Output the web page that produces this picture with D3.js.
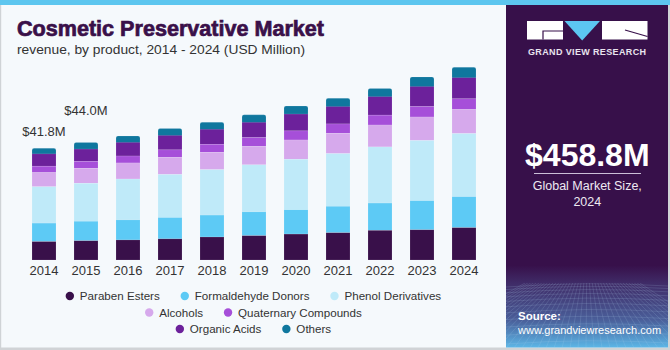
<!DOCTYPE html>
<head>
    <meta charset="utf-8">
    <script src="https://d3js.org/d3.v7.min.js"></script>
    <style>
        body { margin: 0; background: #fff; }
        svg text { font-family: "Liberation Sans", Arial, sans-serif; }
    </style>
</head>
<body>
<div id="chart"></div>
<script>
    // dados -----------------------------------------------------------------
    var years = ["2014","2015","2016","2017","2018","2019","2020","2021","2022","2023","2024"];
    var seriesNames = ["Paraben Esters","Formaldehyde Donors","Phenol Derivatives","Alcohols",
                       "Quaternary Compounds","Organic Acids","Others"];
    var seriesColors = ["#39104a","#5dcaf5","#bfeaf9","#d6a9ec","#a64fd9","#6c219b","#0f779e"];
    var paraben      = [6.9, 7.2, 7.5, 7.9, 8.6, 9.1, 9.7, 10.2, 11.1, 11.3, 12.1];
    var formaldehyde = [6.9, 7.3, 7.5, 8.0, 8.2, 8.9, 9.1, 9.9, 10.2, 10.9, 11.6];
    var phenol       = [13.6, 14.2, 15.3, 16.1, 17.0, 17.6, 18.9, 19.7, 21.0, 22.5, 23.6];
    var alcohols     = [5.3, 5.6, 6.0, 6.4, 6.5, 6.9, 7.2, 7.6, 8.2, 8.8, 9.0];
    var quaternary   = [2.4, 2.6, 2.6, 2.8, 3.0, 3.3, 3.4, 3.5, 3.7, 3.9, 4.0];
    var organic      = [4.6, 4.6, 5.1, 5.4, 5.6, 5.7, 6.3, 6.5, 6.9, 7.5, 7.9];
    var others       = [2.1, 2.5, 2.4, 2.6, 2.6, 2.8, 3.0, 3.1, 3.1, 3.6, 3.9];
    var valueLabels  = [{year: "2014", text: "$41.8M", lift: 12}, {year: "2015", text: "$44.0M", lift: 27}];
    var legendRows   = [[0,1,2],[3,4],[5,6]];

    var W = 670, H = 350;
    var svg = d3.select("#chart").append("svg")
        .attr("width", W).attr("height", H);

    // fundo ---------------------------------------------------------------
    svg.append("rect").attr("width", W).attr("height", H).attr("fill", "#f5f9fc");
    svg.append("rect").attr("x", 0).attr("y", 0).attr("width", 1.2).attr("height", H).attr("fill", "#cfd3d6");
    svg.append("rect").attr("x", 0).attr("y", 347.5).attr("width", W).attr("height", 2.5).attr("fill", "#d0d3d6");
    svg.append("rect").attr("x", 668).attr("y", 0).attr("width", 2).attr("height", H).attr("fill", "#d0d3d6");

    // titulo
    svg.append("text").attr("x", 17).attr("y", 36)
        .attr("font-size", 21.5).attr("font-weight", "bold")
        .attr("fill", "#3a1049").attr("stroke", "#3a1049").attr("stroke-width", 0.7)
        .attr("textLength", 307).attr("lengthAdjust", "spacingAndGlyphs")
        .text("Cosmetic Preservative Market");
    svg.append("text").attr("x", 17).attr("y", 54)
        .attr("font-size", 13.5).attr("fill", "#333")
        .attr("textLength", 288).attr("lengthAdjust", "spacingAndGlyphs")
        .text("revenue, by product, 2014 - 2024 (USD Million)");

    // barras empilhadas -------------------------------------------------------
    var values = [paraben, formaldehyde, phenol, alcohols, quaternary, organic, others];
    var table = years.map(function(y, i) {
        var row = {year: y};
        seriesNames.forEach(function(s, k) { row[s] = values[k][i]; });
        return row;
    });
    var stacked = d3.stack().keys(seriesNames)(table);

    var x = d3.scaleBand().domain(years).range([23, 485])
        .paddingInner(0.4286).paddingOuter(0.2143);
    var y = d3.scaleLinear().domain([0, 80]).range([260, 260 - 80 * 2.673]);

    var layers = svg.append("g").selectAll("g")
        .data(stacked.slice().reverse())
        .enter().append("g")
        .attr("fill", function(d) { return seriesColors[seriesNames.indexOf(d.key)]; });

    layers.selectAll("rect")
        .data(function(d) { return d.map(function(p) { p.key = d.key; return p; }); })
        .enter().append("rect")
        .attr("x", function(d) { return x(d.data.year); })
        .attr("width", x.bandwidth())
        .attr("y", function(d) { return y(d[1]); })
        .attr("height", function(d) {
            var h = y(d[0]) - y(d[1]);
            return d.key === "Others" ? h + 3 : h;
        })
        .attr("rx", function(d) { return d.key === "Others" ? 2 : 0; })
        .attr("stroke", "rgba(255,255,255,0.25)")
        .attr("stroke-width", 0.5);

    // eixo x
    var xAxis = svg.append("g")
        .attr("transform", "translate(0,260)")
        .call(d3.axisBottom(x).tickSize(0).tickPadding(6));
    xAxis.select(".domain").remove();
    xAxis.selectAll("text")
        .attr("font-size", 13).attr("fill", "#333")
        .attr("font-family", "Liberation Sans, Arial, sans-serif");

    // rotulos de valor
    var totals = {};
    table.forEach(function(r) { totals[r.year] = d3.sum(seriesNames, function(s) { return r[s]; }); });
    svg.selectAll("text.vlabel")
        .data(valueLabels).enter().append("text")
        .attr("class", "vlabel")
        .attr("x", function(d) { return x(d.year) + x.bandwidth() / 2; })
        .attr("y", function(d) { return y(totals[d.year]) - d.lift; })
        .attr("text-anchor", "middle")
        .attr("font-size", 13).attr("fill", "#333")
        .text(function(d) { return d.text; });

    // legenda --------------------------------------------------------------
    var legendY = [296, 312.5, 329];
    var lg = svg.append("g");
    legendRows.forEach(function(row, ri) {
        var rg = lg.append("g");
        var cx = 0;
        row.forEach(function(k, j) {
            var item = rg.append("g").attr("transform", "translate(" + cx + ",0)");
            item.append("circle").attr("cx", 4).attr("cy", 0).attr("r", 4.2)
                .attr("fill", seriesColors[k]);
            var t = item.append("text").attr("x", 14).attr("y", 4.2)
                .attr("font-size", 11.6).attr("fill", "#333")
                .text(seriesNames[k]);
            cx += 14 + t.node().getComputedTextLength() + 21;
        });
        var rowW = cx - 21;
        rg.attr("transform", "translate(" + (253.5 - rowW / 2) + "," + legendY[ri] + ")");
    });

    // painel direito ----------------------------------------------------------
    var defs = svg.append("defs");
    var grad = defs.append("linearGradient").attr("id", "pgrad")
        .attr("x1", 0).attr("y1", 0).attr("x2", 0).attr("y2", 1);
    grad.append("stop").attr("offset", "0%").attr("stop-color", "#37104a");
    grad.append("stop").attr("offset", "76%").attr("stop-color", "#37104a");
    grad.append("stop").attr("offset", "81%").attr("stop-color", "#3f2a66");
    grad.append("stop").attr("offset", "92%").attr("stop-color", "#4a5f9a");
    grad.append("stop").attr("offset", "100%").attr("stop-color", "#5cb6e6");

    var px = 506, pw = 162, py = 5, ph = 342.5;
    svg.append("rect").attr("x", px).attr("y", py).attr("width", pw).attr("height", ph)
        .attr("fill", "url(#pgrad)");

    defs.append("clipPath").attr("id", "gridclip")
        .append("rect").attr("x", px).attr("y", 283).attr("width", pw).attr("height", 64.5);
    var grid = svg.append("g").attr("clip-path", "url(#gridclip)")
        .attr("stroke", "#b8d8f0").attr("stroke-opacity", 0.22).attr("stroke-width", 0.7).attr("fill", "none");
    d3.range(0, 14).forEach(function(i) {
        var yy = 284 + i * i * 0.35 + i * 2.2;
        grid.append("path").attr("d", "M" + px + "," + (yy + 3) + " Q" + (px + pw / 2) + "," + (yy - 3) + " " + (px + pw) + "," + (yy + 2));
    });
    d3.range(-12, 30).forEach(function(i) {
        var x0 = px + i * 8;
        grid.append("line").attr("x1", px + pw / 2 + (x0 - px - pw / 2) * 0.35).attr("y1", 283)
            .attr("x2", x0).attr("y2", 348);
    });

    // logo
    var logo = svg.append("g");
    logo.append("rect").attr("x", 527).attr("y", 21).attr("width", 36).attr("height", 18.5).attr("fill", "#fff");
    logo.append("path").attr("d", "M543,39.5 L543,31 L563,31").attr("stroke", "#37104a").attr("stroke-width", 1.2).attr("fill", "none");
    logo.append("path").attr("d", "M564.5,21 L600,21 L582.2,40.5 Z").attr("fill", "#5cc6f2");
    logo.append("rect").attr("x", 602).attr("y", 21).attr("width", 45.5).attr("height", 18.5).attr("fill", "#fff");
    logo.append("path").attr("d", "M625,30 L647.5,36.5").attr("stroke", "#37104a").attr("stroke-width", 1.2);
    logo.append("text").attr("x", 528).attr("y", 54.5)
        .attr("font-size", 9).attr("font-weight", "bold").attr("fill", "#e9e4ef")
        .attr("textLength", 118).attr("lengthAdjust", "spacing")
        .text("GRAND VIEW RESEARCH");

    svg.append("text").attr("x", 587.3).attr("y", 165.5).attr("text-anchor", "middle")
        .attr("font-size", 32).attr("font-weight", "bold").attr("fill", "#fff")
        .text("$458.8M");
    svg.append("line").attr("x1", 534).attr("x2", 641).attr("y1", 173.5).attr("y2", 173.5)
        .attr("stroke", "#cbbfd8").attr("stroke-width", 1);
    svg.append("text").attr("x", 587.3).attr("y", 190).attr("text-anchor", "middle")
        .attr("font-size", 12.5).attr("fill", "#eee9f2").text("Global Market Size,");
    svg.append("text").attr("x", 587.3).attr("y", 205.5).attr("text-anchor", "middle")
        .attr("font-size", 12.5).attr("fill", "#eee9f2").text("2024");

    svg.append("text").attr("x", 518).attr("y", 320).attr("font-size", 11.5)
        .attr("font-weight", "bold").attr("fill", "#fff").text("Source:");
    svg.append("text").attr("x", 518).attr("y", 334).attr("font-size", 11)
        .attr("fill", "#fff").text("www.grandviewresearch.com");

    // faixa azul do topo
    svg.append("rect").attr("x", 0).attr("y", 0).attr("width", W).attr("height", 5).attr("fill", "#5dc6ef");
</script>
</body>
